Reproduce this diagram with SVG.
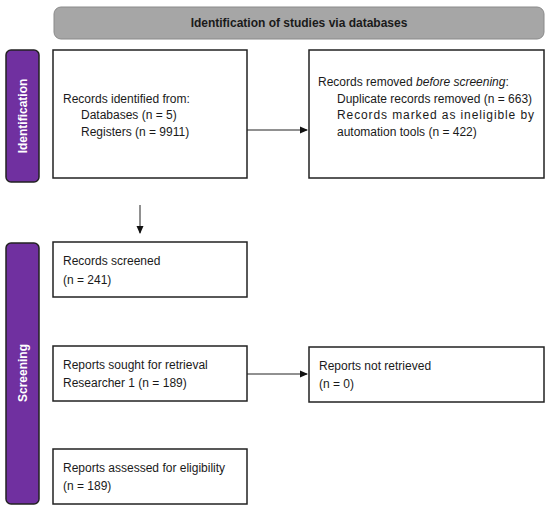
<svg xmlns="http://www.w3.org/2000/svg" width="550" height="510" viewBox="0 0 550 510">
<defs>
<marker id="ah" markerWidth="8" markerHeight="8" refX="7" refY="4" orient="auto" markerUnits="userSpaceOnUse">
<path d="M0,0.5 L8,4 L0,7.5 Z" fill="#111"/>
</marker>
<style>
.box{fill:#fff;stroke:#222;stroke-width:1.5}
.side{fill:#7030a0;stroke:#222;stroke-width:1.5}
.t{font-family:"Liberation Sans",Arial,sans-serif;font-size:12px;fill:#1a1a1a}
.st{font-family:"Liberation Sans",Arial,sans-serif;font-size:12px;font-weight:bold;fill:#fff}
.conn{stroke:#222;stroke-width:1;fill:none}
</style>
</defs>
<rect width="550" height="510" fill="#fff"/>
<g id="header">
<rect x="54" y="7" width="490" height="32" rx="7" fill="#a6a6a6" stroke="#8a8a8a" stroke-width="1"/>
<text class="t" x="299" y="27" text-anchor="middle" font-weight="bold">Identification of studies via databases</text>
</g>
<g id="side-identification">
<rect class="side" x="6" y="50" width="33" height="132" rx="5"/>
<text class="st" transform="translate(27,116) rotate(-90)" text-anchor="middle">Identification</text>
</g>
<g id="side-screening">
<rect class="side" x="6" y="243" width="33" height="261" rx="5"/>
<text class="st" transform="translate(27,373) rotate(-90)" text-anchor="middle">Screening</text>
</g>
<g id="records-identified">
<rect class="box" x="53" y="50" width="194" height="128"/>
<text class="t" x="63" y="103">Records identified from:</text>
<text class="t" x="81" y="119">Databases (n = 5)</text>
<text class="t" x="81" y="136">Registers (n = 9911)</text>
</g>
<g id="records-removed">
<rect class="box" x="309" y="50" width="235" height="128"/>
<text class="t" x="318" y="86">Records removed <tspan font-style="italic">before screening</tspan>:</text>
<text class="t" x="337" y="103">Duplicate records removed (n = 663)</text>
<text class="t" x="337" y="119" textLength="197" lengthAdjust="spacing">Records marked as ineligible by</text>
<text class="t" x="337" y="136">automation tools (n = 422)</text>
</g>
<g id="records-screened">
<rect class="box" x="53" y="242" width="194" height="55"/>
<text class="t" x="63" y="265">Records screened</text>
<text class="t" x="63" y="284">(n = 241)</text>
</g>
<g id="reports-sought">
<rect class="box" x="53" y="346" width="194" height="55"/>
<text class="t" x="63" y="369">Reports sought for retrieval</text>
<text class="t" x="63" y="387">Researcher 1 (n = 189)</text>
</g>
<g id="reports-assessed">
<rect class="box" x="53" y="449" width="194" height="55"/>
<text class="t" x="63" y="472">Reports assessed for eligibility</text>
<text class="t" x="63" y="490">(n = 189)</text>
</g>
<g id="reports-not-retrieved">
<rect class="box" x="309" y="347" width="235" height="55"/>
<text class="t" x="319" y="370">Reports not retrieved</text>
<text class="t" x="319" y="388">(n = 0)</text>
</g>
<g id="connectors">
<line class="conn" x1="247" y1="130" x2="307" y2="130" marker-end="url(#ah)"/>
<line class="conn" x1="140" y1="205" x2="140" y2="233" marker-end="url(#ah)"/>
<line class="conn" x1="247" y1="374" x2="307" y2="374" marker-end="url(#ah)"/>
</g>
</svg>
